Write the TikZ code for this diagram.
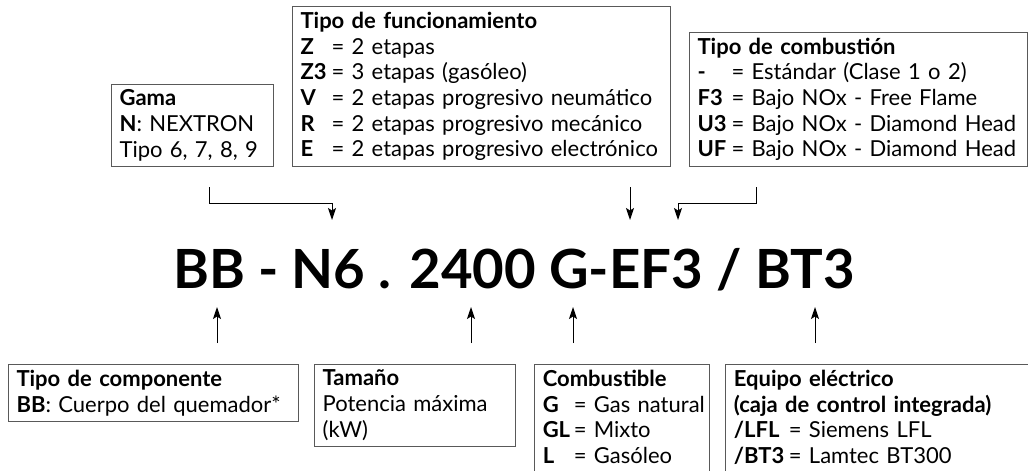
\documentclass[tikz,border=0pt]{standalone}
\usepackage{fontspec}
\setmainfont{Lato}
\usetikzlibrary{positioning,arrows.meta}

\newcommand{\cd}[2][31pt]{\makebox[#1][l]{\textbf{#2}}}

\begin{document}
\begin{tikzpicture}[x=1pt, y=-1pt, >={Stealth[length=12pt,width=8pt,inset=2.5pt]},
  font=\fontsize{22}{25.7}\selectfont,
  box/.style={draw=black!65, line width=1.1pt, inner xsep=8pt, inner ysep=5.5pt, align=left}]

\useasboundingbox (0,0) rectangle (1028,471);

% codigo
\node[anchor=base, font=\fontsize{54}{54}\selectfont\bfseries] (code) at (514,288)
  {\scalebox{1.01}[1]{BB - N6 . 2400 G-EF3 / BT3}};

% cajas de arriba
\node[box, anchor=south west, text width=146pt] (gama) at (111,167)
  {\textbf{Gama}\\ \textbf{N}: NEXTRON\\ Tipo 6, 7, 8, 9};
\node[box, anchor=south west, text width=362pt] (func) at (292,167)
  {\textbf{Tipo de funcionamiento}\\
   \cd{Z}= 2 etapas\\
   \cd{Z3}= 3 etapas (gasóleo)\\
   \cd{V}= 2 etapas progresivo neumático\\
   \cd{R}= 2 etapas progresivo mecánico\\
   \cd{E}= 2 etapas progresivo electrónico};
\node[box, anchor=south west, text width=322pt] (comb) at (689,167)
  {\textbf{Tipo de combustión}\\
   \cd[34pt]{-}= Estándar (Clase 1 o 2)\\
   \cd[34pt]{F3}= Bajo NOx - Free Flame\\
   \cd[34pt]{U3}= Bajo NOx - Diamond Head\\
   \cd[34pt]{UF}= Bajo NOx - Diamond Head};

% cajas de abajo (las dos ultimas salen por abajo)
\node[box, anchor=north west, text width=274pt] (comp) at (8,364)
  {\textbf{Tipo de componente}\\ \textbf{BB}: Cuerpo del quemador*};
\node[box, text width=185pt] (tam) [below right=0pt and 15pt of comp.north east]
  {\textbf{Tamaño}\\ Potencia máxima\\ (kW)};
\node[box, text width=159pt] (fuel) [below right=0pt and 18pt of tam.north east]
  {\textbf{Combustible}\\
   \mbox{\cd[31pt]{G}= Gas natural}\\
   \mbox{\cd[31pt]{GL}= Mixto}\\
   \mbox{\cd[31pt]{L}= Gasóleo}\\[-14pt]\mbox{}};
\node[box, text width=289pt] (elec) [below right=0pt and 15pt of fuel.north east]
  {\textbf{Equipo eléctrico}\\
   \textbf{(caja de control integrada)}\\
   \cd[55pt]{/LFL}= Siemens LFL\\
   \cd[55pt]{/BT3}= Lamtec BT300\\[-14pt]\mbox{}};

% flechas de arriba
\coordinate (gama-from) at (209,187);
\coordinate (gama-bend) at (209,203);
\coordinate (gama-to) at (332,220);
\coordinate (func-from) at (630,187);
\coordinate (func-to) at (630,220);
\coordinate (comb-from) at (756,187);
\coordinate (comb-bend) at (756,203);
\coordinate (comb-to) at (678,220);

\draw[->, line width=1pt] (gama-from) -- (gama-bend) -| (gama-to);
\draw[->, line width=1pt] (func-from) -- (func-to);
\draw[->, line width=1pt] (comb-from) -- (comb-bend) -| (comb-to);

% flechas de abajo
\foreach \n/\x in {comp/217, tam/471, fuel/573, elec/815}{
  \coordinate (\n-from) at (\x,343);
  \coordinate (\n-to) at (\x,307);
  \draw[->, line width=1pt] (\n-from) -- (\n-to);
}

\end{tikzpicture}
\end{document}
